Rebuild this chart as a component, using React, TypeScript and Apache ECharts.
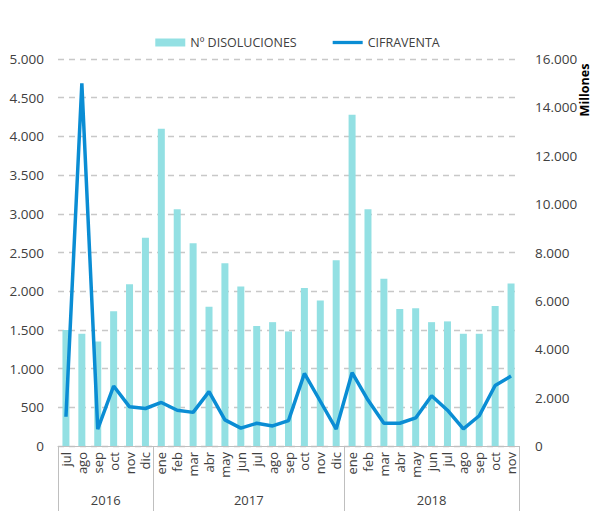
import React, { useEffect, useRef } from "react";
import * as echarts from "echarts";

const months = ["jul","ago","sep","oct","nov","dic","ene","feb","mar","abr","may","jun","jul","ago","sep","oct","nov","dic","ene","feb","mar","abr","may","jun","jul","ago","sep","oct","nov"];
const years = ["2016", "2017", "2018"];
const yearStart = [0, 6, 18];
const yearEnd = [6, 18, 29];
const disoluciones = [1500,1450,1350,1740,2090,2690,4100,3060,2620,1800,2360,2060,1550,1600,1480,2040,1880,2400,4280,3060,2160,1770,1780,1600,1610,1450,1450,1810,2100];
const cifraventa = [1210,14990,700,2480,1620,1550,1800,1480,1390,2250,1080,740,940,830,1050,3000,1850,700,3030,1900,940,940,1160,2080,1480,710,1250,2500,2890];

const fmt = (v: number) => String(v).replace(/\B(?=(\d{3})+(?!\d))/g, ".");
const FONT = "'Open Sans', sans-serif";

export default function App() {
  const ref = useRef<HTMLDivElement>(null);
  useEffect(() => {
    const chart = echarts.init(ref.current!, null, { renderer: "svg" });
    const yearCenters = years.map((_, i) => (yearStart[i] + yearEnd[i]) / 2);
    chart.setOption({
      animation: false,
      textStyle: { fontFamily: FONT },
      legend: {
        top: 31,
        left: "center",
        itemGap: 36,
        itemWidth: 30,
        itemHeight: 8,
        textStyle: { fontSize: 12.5, color: "#404040", fontFamily: FONT },
        data: [
          { name: "Nº DISOLUCIONES", icon: "rect" },
          { name: "CIFRAVENTA", icon: "path://M0,0 L32,0 L32,3.5 L0,3.5 Z" },
        ],
      },
      grid: { left: 58, right: 76, top: 59, bottom: 65, containLabel: false },
      xAxis: [
        {
          type: "category",
          data: months,
          boundaryGap: true,
          axisLine: { lineStyle: { color: "#BFBFBF", width: 1 } },
          axisTick: { show: false },
          axisLabel: {
            rotate: 90,
            interval: 0,
            margin: 6,
            fontSize: 13,
            color: "#404040",
            fontFamily: FONT,
          },
        },
        {
          type: "value",
          position: "bottom",
          min: 0,
          max: months.length,
          axisLine: { show: false },
          splitLine: { show: false },
          axisTick: {
            show: true,
            length: 66,
            customValues: [0, ...yearEnd],
            lineStyle: { color: "#BFBFBF", width: 1 },
          },
          axisLabel: {
            customValues: yearCenters,
            margin: 47,
            fontSize: 13,
            color: "#404040",
            fontFamily: FONT,
            formatter: (v: number) => {
              const i = yearCenters.indexOf(v);
              return i >= 0 ? years[i] : "";
            },
          },
        },
      ],
      yAxis: [
        {
          type: "value",
          min: 0,
          max: 5000,
          interval: 500,
          axisLine: { show: false },
          axisTick: { show: false },
          axisLabel: { formatter: fmt, fontSize: 13.5, color: "#404040", margin: 14, fontFamily: FONT },
          splitLine: { lineStyle: { color: "#C8C8C8", type: [6, 5], width: 1.3 } },
        },
        {
          type: "value",
          min: 0,
          max: 16000,
          interval: 2000,
          axisLine: { show: false },
          axisTick: { show: false },
          splitLine: { show: false },
          axisLabel: { formatter: fmt, fontSize: 13.5, color: "#404040", margin: 16, fontFamily: FONT },
        },
      ],
      graphic: [
        {
          type: "text",
          x: 584,
          y: 90,
          rotation: Math.PI / 2,
          style: {
            text: "Millones",
            fontSize: 12.5,
            fontWeight: "bold",
            fill: "#000000",
            fontFamily: FONT,
            textAlign: "center",
            textVerticalAlign: "middle",
          },
        },
      ],
      series: [
        {
          name: "Nº DISOLUCIONES",
          type: "bar",
          data: disoluciones,
          xAxisIndex: 0,
          yAxisIndex: 0,
          barWidth: 7,
          itemStyle: { color: "#93E0E3" },
        },
        {
          name: "CIFRAVENTA",
          type: "line",
          data: cifraventa,
          xAxisIndex: 0,
          yAxisIndex: 1,
          symbol: "none",
          lineStyle: { color: "#0A8DD4", width: 3.5 },
          itemStyle: { color: "#0A8DD4" },
        },
      ],
    });
    return () => chart.dispose();
  }, []);
  return (
    <div
      ref={ref}
      style={{ position: "fixed", left: 0, top: 0, width: 595, height: 511, background: "#fff" }}
    />
  );
}
